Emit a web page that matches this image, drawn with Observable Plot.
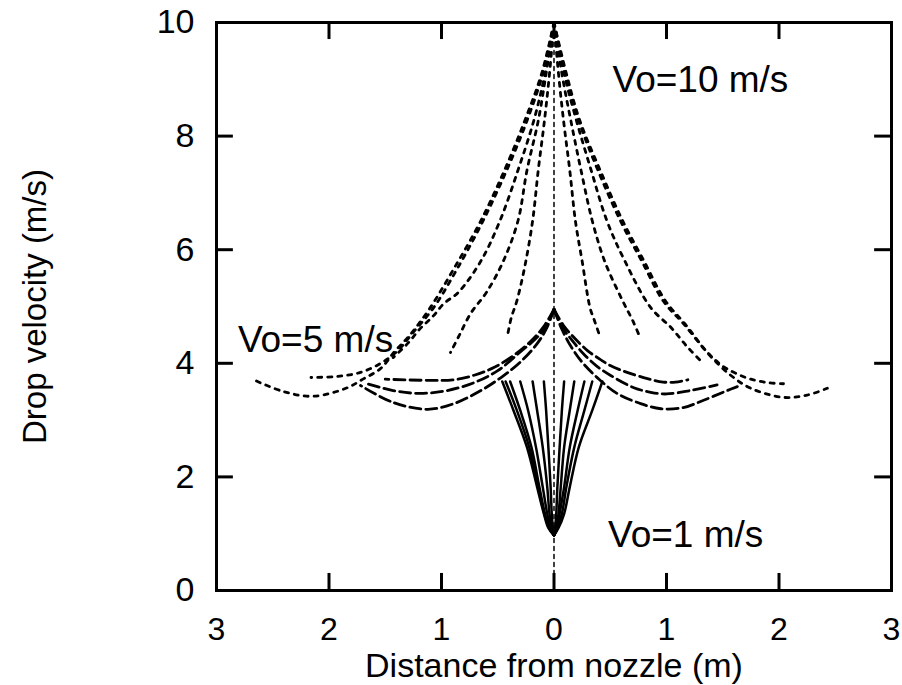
<!DOCTYPE html>
<html><head><meta charset="utf-8">
<script src="https://cdn.jsdelivr.net/npm/d3@7"></script>
<script src="https://cdn.jsdelivr.net/npm/@observablehq/plot@0.6"></script>
<style>html,body{margin:0;padding:0;background:#fff;} svg{display:block}</style>
</head><body><div id="chart"></div>
<script>
// Axis tick values
const xTickValues = [-3, -2, -1, 0, 1, 2, 3];
const xInnerTicks = [-2, -1, 0, 1, 2];
const yTickValues = [0, 2, 4, 6, 8, 10];
const yInnerTicks = [2, 4, 6, 8];

// Vo = 10 m/s trajectories (x = distance, m ; y = drop velocity, m/s)
const v10Curves = [
  [[0,10],[-0.04,9.1],[-0.085,8.27],[-0.14,7.4],[-0.19,6.51],[-0.26,5.7],[-0.33,5.1],[-0.38,4.8],[-0.41,4.52]],
  [[0,10],[-0.07,9.1],[-0.14,8.27],[-0.24,7.4],[-0.32,6.51],[-0.45,5.8],[-0.6,5.25],[-0.74,4.88],[-0.84,4.5],[-0.92,4.19]],
  [[0,10],[-0.08,9.1],[-0.18,8.27],[-0.32,7.4],[-0.48,6.51],[-0.65,5.8],[-0.85,5.25],[-0.98,5.05],[-1.07,4.84],[-1.19,4.61],[-1.3,4.35],[-1.43,4.1]],
  [[0,10],[-0.1,9.1],[-0.24,8.27],[-0.42,7.4],[-0.63,6.51],[-0.85,5.7],[-1.07,4.98],[-1.25,4.55],[-1.39,4.22],[-1.54,4.0],[-1.72,3.84],[-1.92,3.77],[-2.16,3.75]],
  [[0,10],[-0.11,9.1],[-0.26,8.27],[-0.44,7.4],[-0.65,6.51],[-0.88,5.7],[-1.1,4.98],[-1.28,4.5],[-1.42,4.2],[-1.54,3.91],[-1.69,3.73],[-1.85,3.56],[-2.14,3.42],[-2.4,3.5],[-2.67,3.71]],
  [[0,10],[0.04,9.1],[0.085,8.27],[0.14,7.4],[0.19,6.51],[0.25,5.8],[0.32,4.98],[0.36,4.75],[0.4,4.52]],
  [[0,10],[0.07,9.1],[0.15,8.27],[0.24,7.4],[0.34,6.51],[0.45,5.8],[0.61,5.1],[0.7,4.75],[0.77,4.43]],
  [[0,10],[0.09,9.1],[0.2,8.27],[0.33,7.4],[0.47,6.51],[0.63,5.8],[0.86,4.98],[1.04,4.63],[1.18,4.3],[1.3,4.05]],
  [[0,10],[0.1,9.1],[0.22,8.27],[0.39,7.4],[0.59,6.51],[0.78,5.8],[0.97,5.1],[1.15,4.7],[1.36,4.2],[1.5,3.95],[1.62,3.82],[1.75,3.72],[1.9,3.66],[2.04,3.64]],
  [[0,10],[0.11,9.1],[0.23,8.27],[0.41,7.4],[0.61,6.51],[0.8,5.8],[0.99,5.1],[1.17,4.68],[1.38,4.15],[1.57,3.79],[1.75,3.56],[2.04,3.4],[2.25,3.44],[2.43,3.56]]
];

// Vo = 5 m/s trajectories
const v5Curves = [
  [[0,4.95],[-0.09,4.65],[-0.2,4.4],[-0.35,4.15],[-0.53,3.93],[-0.71,3.79],[-0.89,3.71],[-1.12,3.7],[-1.5,3.72]],
  [[0,4.95],[-0.08,4.62],[-0.18,4.4],[-0.3,4.2],[-0.5,3.87],[-0.71,3.66],[-0.95,3.52],[-1.19,3.47],[-1.43,3.52],[-1.66,3.64]],
  [[0,4.95],[-0.07,4.6],[-0.16,4.32],[-0.3,4.02],[-0.45,3.78],[-0.65,3.52],[-0.89,3.29],[-1.12,3.19],[-1.43,3.31],[-1.72,3.61]],
  [[0,4.95],[0.09,4.65],[0.18,4.45],[0.3,4.22],[0.41,4.07],[0.5,3.96],[0.65,3.84],[0.83,3.73],[0.97,3.67],[1.08,3.67],[1.19,3.71]],
  [[0,4.95],[0.08,4.62],[0.17,4.38],[0.27,4.15],[0.38,3.95],[0.5,3.79],[0.71,3.57],[0.86,3.49],[1.0,3.46],[1.21,3.52],[1.45,3.62]],
  [[0,4.95],[0.07,4.6],[0.15,4.3],[0.25,4.02],[0.4,3.72],[0.56,3.47],[0.77,3.29],[0.95,3.2],[1.15,3.22],[1.33,3.35],[1.54,3.52],[1.63,3.59]]
];

// Vo = 1 m/s trajectories (solid)
const v1Curves = [
  [[0,0.97],[-0.05,1.1],[-0.09,1.35],[-0.15,1.82],[-0.24,2.52],[-0.36,3.17],[-0.46,3.68]],
  [[0,0.97],[-0.045,1.1],[-0.085,1.35],[-0.14,1.82],[-0.22,2.52],[-0.33,3.17],[-0.43,3.68]],
  [[0,0.97],[-0.04,1.1],[-0.08,1.35],[-0.13,1.82],[-0.2,2.52],[-0.3,3.17],[-0.39,3.68]],
  [[0,0.97],[-0.03,1.1],[-0.06,1.35],[-0.1,1.82],[-0.16,2.52],[-0.23,3.17],[-0.3,3.68]],
  [[0,0.97],[-0.02,1.1],[-0.04,1.35],[-0.06,1.82],[-0.1,2.52],[-0.15,3.17],[-0.19,3.68]],
  [[0,0.97],[-0.01,1.1],[-0.02,1.35],[-0.03,1.82],[-0.05,2.52],[-0.07,3.17],[-0.09,3.68]],
  [[0,0.97],[0.01,1.1],[0.02,1.35],[0.03,1.82],[0.05,2.52],[0.07,3.17],[0.09,3.68]],
  [[0,0.97],[0.02,1.1],[0.04,1.35],[0.06,1.82],[0.09,2.52],[0.14,3.17],[0.18,3.68]],
  [[0,0.97],[0.03,1.1],[0.05,1.35],[0.09,1.82],[0.14,2.52],[0.21,3.17],[0.27,3.68]],
  [[0,0.97],[0.03,1.1],[0.07,1.35],[0.11,1.82],[0.18,2.52],[0.27,3.17],[0.34,3.68]],
  [[0,0.97],[0.04,1.1],[0.09,1.35],[0.14,1.82],[0.22,2.52],[0.34,3.17],[0.43,3.68]]
];

// Centre line (x = 0) from the ground to the top
const centreLine = [[0,0],[0,10]];

// Annotations
const annotationText = ["Vo=10 m/s", "Vo=5 m/s", "Vo=1 m/s"];
const annotationX = [0.52, -2.81, 0.48];
const annotationY = [8.98, 4.4, 0.97];

const xTitle = "Distance from nozzle (m)";
const yTitle = "Drop velocity (m/s)";

function toRows(curves) {
  const rows = [];
  curves.forEach((c, i) => c.forEach(([x, y]) => rows.push({id: i, x, y})));
  return rows;
}
const v10Rows = toRows(v10Curves);
const v5Rows = toRows(v5Curves);
const v1Rows = toRows(v1Curves);
const annotations = annotationText.map((t, i) => ({t, x: annotationX[i], y: annotationY[i]}));

const FONT = "Liberation Sans, Arial, Helvetica, sans-serif";

const chart = Plot.plot({
  width: 902,
  height: 685,
  marginLeft: 216,
  marginRight: 11,
  marginTop: 22,
  marginBottom: 95,
  x: {domain: [-3, 3], label: null},
  y: {domain: [0, 10], label: null},
  style: {fontFamily: FONT, fontSize: "34px", background: "#fff", color: "#000"},
  marks: [
    Plot.line(centreLine, {x: d => d[0], y: d => d[1], stroke: "#000", strokeWidth: 1.5, strokeDasharray: "4,4"}),
    Plot.line(v1Rows, {x: "x", y: "y", z: "id", curve: "catmull-rom", stroke: "#000", strokeWidth: 2.5}),
    Plot.line(v5Rows, {x: "x", y: "y", z: "id", curve: "catmull-rom", stroke: "#000", strokeWidth: 2.8, strokeDasharray: "11,5"}),
    Plot.line(v10Rows, {x: "x", y: "y", z: "id", curve: "catmull-rom", stroke: "#000", strokeWidth: 2.8, strokeDasharray: "4,6"}),
    Plot.ruleX(xInnerTicks, {x: d => d, y1: 0, y2: 0.3, stroke: "#000", strokeWidth: 3}),
    Plot.ruleX(xInnerTicks, {x: d => d, y1: 9.7, y2: 10, stroke: "#000", strokeWidth: 3}),
    Plot.ruleY(yInnerTicks, {y: d => d, x1: -3, x2: -2.85, stroke: "#000", strokeWidth: 3}),
    Plot.ruleY(yInnerTicks, {y: d => d, x1: 2.85, x2: 3, stroke: "#000", strokeWidth: 3}),
    Plot.frame({stroke: "#000", strokeWidth: 3}),
    Plot.axisX({ticks: xTickValues, tickFormat: d => Math.abs(d), tickSize: 0, tickPadding: 27, label: null, fontSize: 32, fill: "#000"}),
    Plot.axisY({ticks: yTickValues, tickFormat: d => d, tickSize: 0, tickPadding: 22, label: null, fontSize: 34, fill: "#000"}),
    Plot.text([yTitle], {text: d => d, frameAnchor: "left", dx: -181, rotate: -90, textAnchor: "middle", lineAnchor: "middle", fontSize: 33, fill: "#000"}),
    Plot.text([xTitle], {text: d => d, frameAnchor: "bottom", dy: 76, textAnchor: "middle", lineAnchor: "middle", fontSize: 34, fill: "#000"}),
    Plot.text(annotations, {x: "x", y: "y", text: "t", textAnchor: "start", fontSize: 37, fill: "#000"})
  ]
});
document.getElementById("chart").appendChild(chart);
</script>
</body></html>
